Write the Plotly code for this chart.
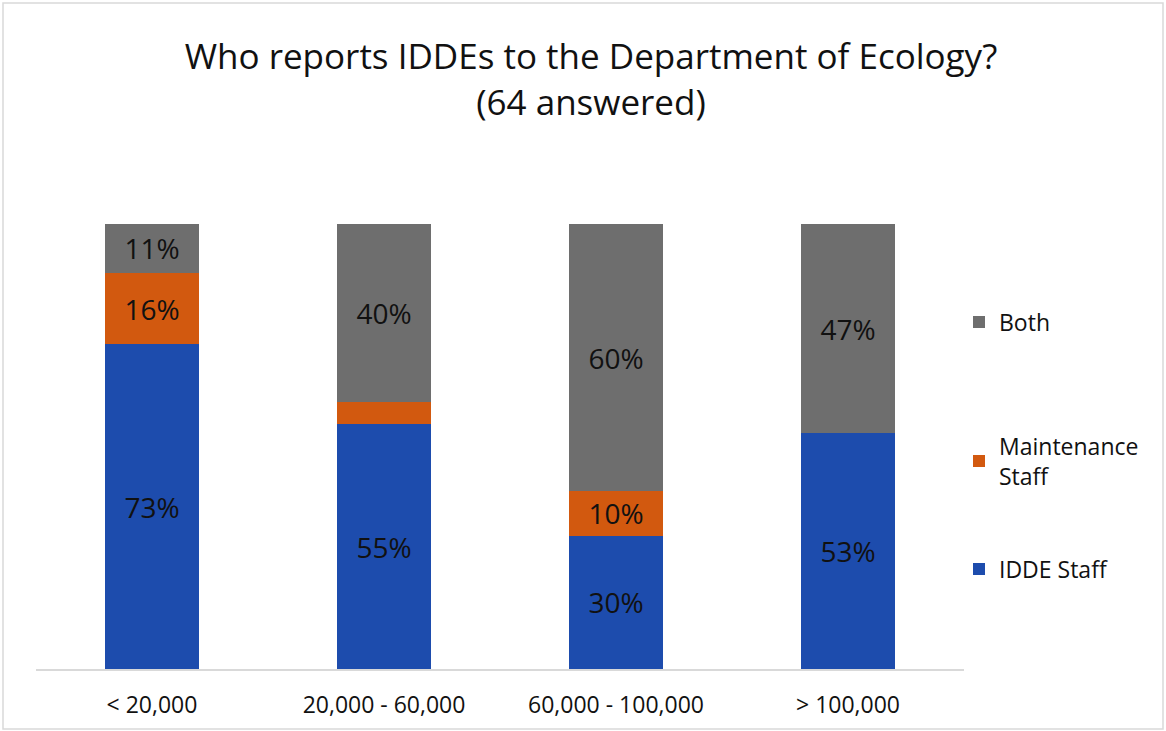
import plotly.graph_objects as go

categories = ["< 20,000", "20,000 - 60,000", "60,000 - 100,000", "> 100,000"]
idde_staff = [73, 55, 30, 53]
maintenance_staff = [16, 5, 10, 0]
both = [11, 40, 60, 47]

def labels(vals, hide_below=6):
    return [f"{v}%" if v >= hide_below else "" for v in vals]

W, H = 1166, 731
L, R, T, B = 36, 202, 224, 62
PH = H - T - B
FONT = "Open Sans, sans-serif"

fig = go.Figure()
series = [
    ("IDDE Staff", idde_staff, "#1d4cad", "legend3"),
    ("Maintenance<br>Staff", maintenance_staff, "#d2590f", "legend2"),
    ("Both", both, "#6e6e6e", "legend"),
]
for name, vals, col, leg in series:
    fig.add_trace(go.Bar(
        x=categories, y=vals, name=name, legend=leg,
        marker=dict(color=col, line=dict(width=0)),
        text=labels(vals), textposition="inside",
        insidetextanchor="middle", textangle=0,
        constraintext="none",
        textfont=dict(family=FONT, size=28, color="#111111"),
        hoverinfo="skip",
    ))

def leg_at(ypix):
    return dict(
        x=(959 - L) / (W - L - R), xanchor="left",
        y=(H - B - ypix) / PH, yanchor="middle",
        font=dict(family=FONT, size=23, color="#111111"),
        itemwidth=30, bgcolor="rgba(0,0,0,0)",
    )

fig.update_layout(
    width=W, height=H,
    barmode="stack", bargap=0.595,
    paper_bgcolor="white", plot_bgcolor="white",
    margin=dict(l=L, r=R, t=T, b=B, autoexpand=False),
    font=dict(family=FONT, color="#111111"),
    title=dict(
        text="Who reports IDDEs to the Department of Ecology?<br>(64 answered)",
        x=591 / W, xanchor="center", xref="container",
        y=0.905, yanchor="top", yref="container",
        font=dict(family=FONT, size=35, color="#111111"),
    ),
    showlegend=True,
    legend=leg_at(322),
    legend2=leg_at(461),
    legend3=leg_at(569),
    xaxis=dict(
        showline=True, linecolor="#d9d9d9", linewidth=2,
        ticks="", showgrid=False, ticklabelstandoff=14,
        tickfont=dict(family=FONT, size=23, color="#111111"),
    ),
    yaxis=dict(range=[0, 100], visible=False, showgrid=False),
)

# light frame around the whole chart
fig.add_shape(type="rect", xref="paper", yref="paper",
              x0=(3 - L) / (W - L - R), x1=(W - 3 - L) / (W - L - R),
              y0=-(B - 2) / PH, y1=1 + (T - 3) / PH,
              line=dict(color="#d9d9d9", width=1.5), layer="below")

fig.write_html("out.html", config={"displayModeBar": False},
               post_script="document.body.style.margin='0';")
